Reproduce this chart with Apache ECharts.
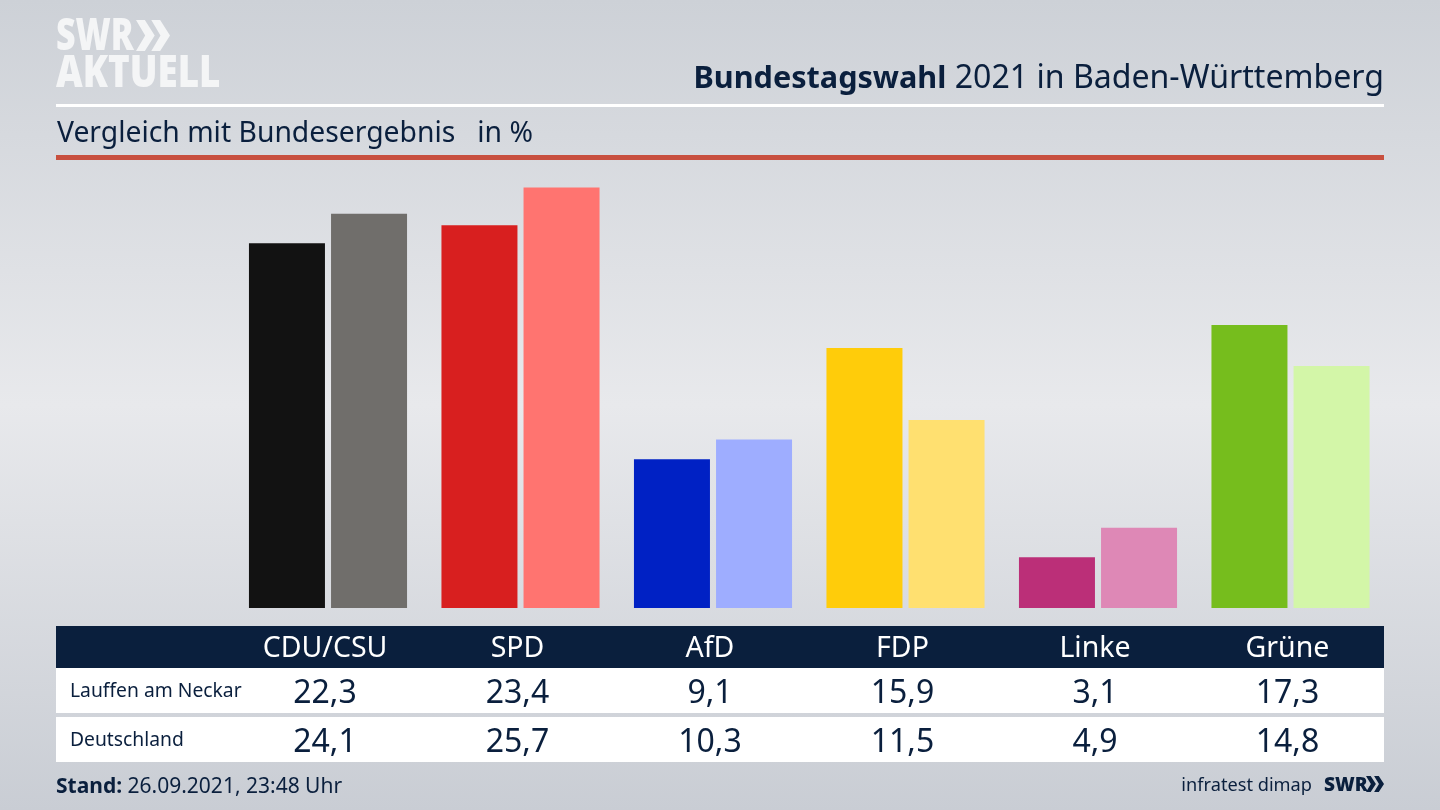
<!DOCTYPE html>
<html>
<head>
<meta charset="utf-8">
<title>Bundestagswahl 2021</title>
<script src="https://cdn.jsdelivr.net/npm/echarts@6/dist/echarts.min.js"></script>
<style>
html, body { margin: 0; padding: 0; }
#chart { width: 1440px; height: 810px; }
</style>
</head>
<body>
<div id="chart"></div>
<script>
var parties = ['CDU/CSU', 'SPD', 'AfD', 'FDP', 'Linke', 'Grüne'];
var lauffen = [22.3, 23.4, 9.1, 15.9, 3.1, 17.3];
var deutschland = [24.1, 25.7, 10.3, 11.5, 4.9, 14.8];
var rowNames = ['Lauffen am Neckar', 'Deutschland'];
var strongColors = ['#121212', '#d81f1f', '#0021c4', '#ffcc0a', '#bb2f78', '#76bd1d'];
var lightColors = ['#706e6b', '#ff7470', '#9eadff', '#ffe070', '#de88b6', '#d3f6a8'];

var navy = '#0a1f3d';
var logoWhite = '#f4f5f6';
var fontName = '"Noto Sans", sans-serif';

function comma(v) {
	return String(v).replace('.', ',');
}

function barData(values, colors) {
	return values.map(function (v, i) {
		return { value: v, itemStyle: { color: colors[i] } };
	});
}

// x axis that only carries a row of the table under the bars
function rowAxis(labels, offset, size, color) {
	return {
		type: 'category',
		position: 'bottom',
		offset: offset,
		data: labels,
		axisLine: { show: false },
		axisTick: { show: false },
		axisLabel: {
			interval: 0,
			margin: 0,
			padding: [0, 6, 0, 0],
			fontFamily: fontName,
			fontSize: size,
			color: color,
			verticalAlign: 'middle'
		}
	};
}

function band(y, h, color) {
	return { type: 'rect', z: -5, shape: { x: 56, y: y, width: 1328, height: h }, style: { fill: color } };
}

function label(x, y, text, size, weight, align) {
	return {
		type: 'text', x: x, y: y, z: 5,
		style: {
			text: text, fill: navy, fontFamily: fontName, fontSize: size, fontWeight: weight || 'normal',
			align: align || 'left', verticalAlign: 'middle'
		}
	};
}

// the logo letters are narrower and taller than the installed fonts
function logoText(y, text, scaleX, scaleY) {
	var el = label(56, y, text, 35, 900);
	el.style.fill = logoWhite;
	el.scaleX = scaleX;
	el.scaleY = scaleY;
	return el;
}

function chevrons(x, y, w, h, fill) {
	var out = [];
	[0, 0.45].forEach(function (k) {
		var dx = x + k * w;
		out.push({
			type: 'polygon', z: 5,
			shape: { points: [[dx, y], [dx + w * 0.26, y], [dx + w * 0.55, y + h / 2], [dx + w * 0.26, y + h], [dx, y + h], [dx + w * 0.27, y + h / 2]] },
			style: { fill: fill }
		});
	});
	return out;
}

var myChart = echarts.init(document.getElementById('chart'));
var option = {
	animation: false,
	backgroundColor: {
		type: 'linear', x: 0, y: 0, x2: 0, y2: 1,
		colorStops: [
			{ offset: 0, color: '#cdd1d7' },
			{ offset: 0.5, color: '#e8e9ec' },
			{ offset: 1, color: '#c9cdd4' }
		]
	},
	grid: { left: 231.75, width: 1155, top: 150, height: 458 },
	xAxis: [
		{
			type: 'category',
			data: parties,
			axisLine: { show: false },
			axisTick: { show: false },
			axisLabel: { show: false }
		},
		rowAxis(parties, 41, 28.5, '#ffffff'),
		rowAxis(lauffen.map(comma), 86, 32, navy),
		rowAxis(deutschland.map(comma), 135, 32, navy)
	],
	yAxis: { type: 'value', min: 0, max: 28, show: false },
	series: [
		{ type: 'bar', name: rowNames[0], data: barData(lauffen, strongColors), barWidth: 76, barGap: '8%' },
		{ type: 'bar', name: rowNames[1], data: barData(deutschland, lightColors), barWidth: 76, barGap: '8%' }
	],
	graphic: [
		band(104, 3, '#ffffff'),
		band(155, 5, '#c8503f'),
		band(626, 42, navy),
		band(668, 45, '#ffffff'),
		band(717, 45, '#ffffff'),
		logoText(38, 'SWR', 0.97, 1.24),
		logoText(75, 'AKTUELL', 1.05, 1.24),
		{
			type: 'text', x: 1384, y: 79, z: 5,
			style: {
				text: '{b|Bundestagswahl} 2021 in Baden-Württemberg',
				fill: navy, fontFamily: fontName, fontSize: 32.1, align: 'right', verticalAlign: 'middle',
				rich: { b: { fontFamily: fontName, fontSize: 30.6, fontWeight: 'bold', fill: navy } }
			}
		},
		label(57, 134, 'Vergleich mit Bundesergebnis   in %', 28.3),
		label(70, 692, rowNames[0], 19.3),
		label(70, 741, rowNames[1], 19.3),
		{
			type: 'text', x: 56, y: 787, z: 5,
			style: {
				text: '{b|Stand:} 26.09.2021, 23:48 Uhr',
				fill: navy, fontFamily: fontName, fontSize: 21, align: 'left', verticalAlign: 'middle',
				rich: { b: { fontFamily: fontName, fontSize: 21, fontWeight: 'bold', fill: navy } }
			}
		},
		label(1312, 786, 'infratest dimap', 18.2, 'normal', 'right'),
		label(1324, 786, 'SWR', 19, 900)
	].concat(chevrons(136, 20, 34, 31, logoWhite)).concat(chevrons(1366, 776, 18, 16, navy))
};
myChart.setOption(option);
</script>
</body>
</html>
